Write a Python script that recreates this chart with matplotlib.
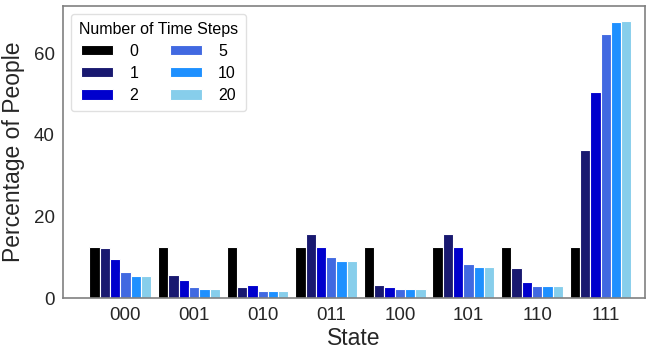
import numpy as np
import matplotlib
matplotlib.use("Agg")
import matplotlib.pyplot as plt

states = ["000", "001", "010", "011", "100", "101", "110", "111"]
steps = ["0", "1", "2", "5", "10", "20"]
colors = ["black", "midnightblue", "mediumblue", "royalblue", "dodgerblue", "skyblue"]

pct_0 = [12.5, 12.5, 12.5, 12.5, 12.5, 12.5, 12.5, 12.5]
pct_1 = [12.3, 5.8, 2.7, 15.8, 3.3, 15.8, 7.5, 36.3]
pct_2 = [9.6, 4.6, 3.2, 12.6, 2.8, 12.5, 4.0, 50.4]
pct_5 = [6.5, 2.7, 1.9, 10.1, 2.4, 8.5, 3.1, 64.6]
pct_10 = [5.6, 2.3, 1.7, 9.2, 2.4, 7.8, 3.1, 67.6]
pct_20 = [5.6, 2.3, 1.7, 9.1, 2.4, 7.7, 3.1, 67.9]
series = [pct_0, pct_1, pct_2, pct_5, pct_10, pct_20]


def main():
    plt.rcParams["font.family"] = ["Liberation Sans", "DejaVu Sans"]
    fig = plt.figure(figsize=(6.5, 3.54), dpi=100)
    ax = fig.add_axes([0.097, 0.157, 0.895, 0.827])

    x = np.arange(len(states))
    w = 0.15
    for j, vals in enumerate(series):
        ax.bar(x + (j - 3) * w, vals, width=w, color=colors[j],
               edgecolor="white", linewidth=0.8, label=steps[j])

    ax.set_xlim(-0.91, 7.57)
    ax.set_ylim(0, 71.6)
    ax.set_xticks(x)
    ax.set_xticklabels(states)
    ax.set_yticks([0, 20, 40, 60])
    ax.tick_params(axis="both", length=0, labelsize=13.5, colors="0.15", pad=6)
    for s in ax.spines.values():
        s.set_color("0.5")
        s.set_linewidth(1.2)

    ax.set_xlabel("State", fontsize=16.5, color="0.15", labelpad=2)
    ax.set_ylabel("Percentage of People", fontsize=16.5, color="0.15", labelpad=6)

    leg = ax.legend(title="Number of Time Steps", ncol=2, fontsize=11.5,
                    title_fontsize=11.5, loc="upper left", frameon=True,
                    handlelength=2.0, handleheight=0.6, handletextpad=1.0,
                    columnspacing=2.0, borderpad=0.5, labelspacing=0.45)
    leg.get_frame().set_edgecolor("0.85")

    fig.savefig("out.png", dpi=100)


if __name__ == "__main__":
    main()
